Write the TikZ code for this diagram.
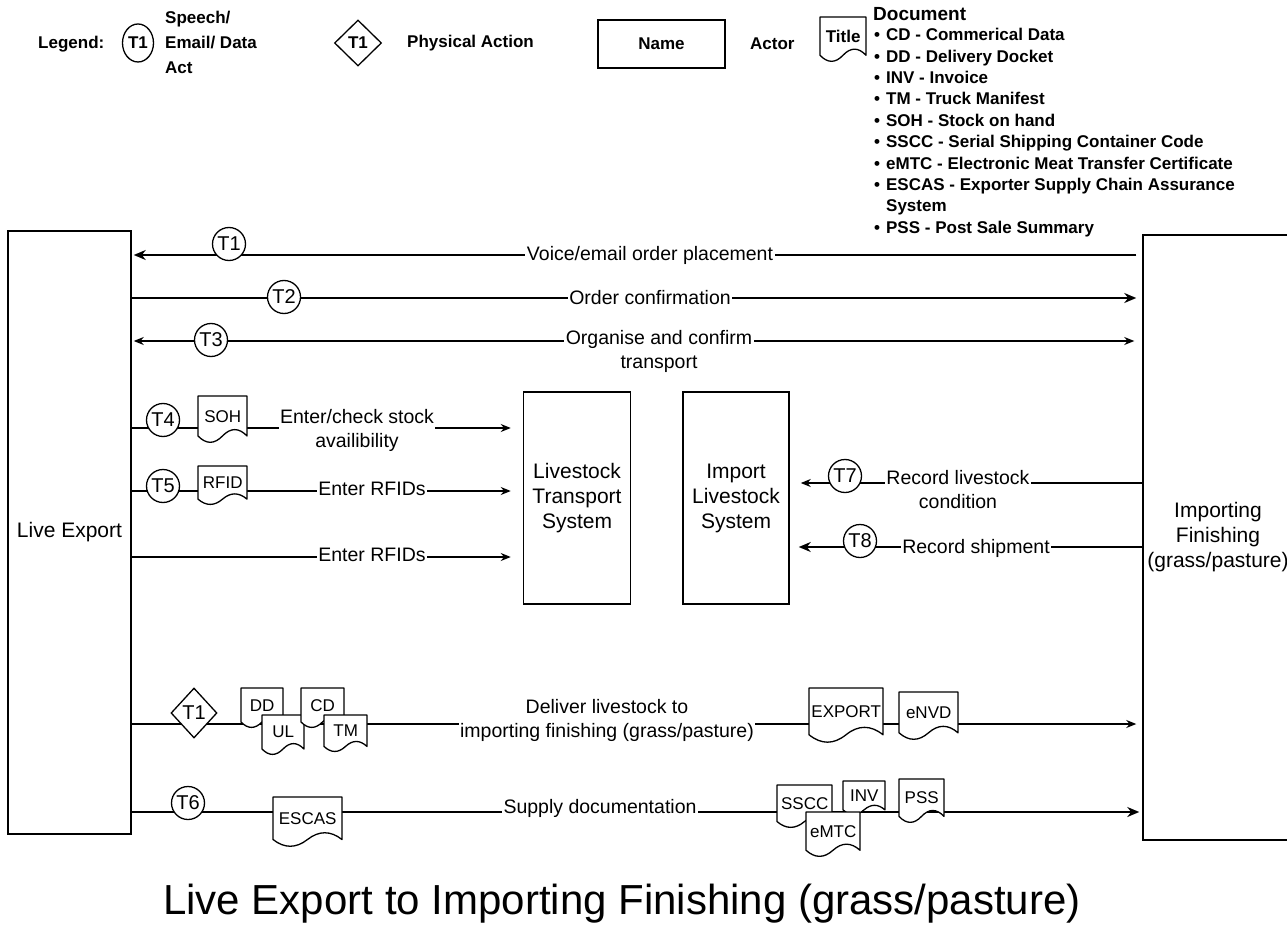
\documentclass[tikz,border=0pt]{standalone}
\usepackage{fontspec}
\setmainfont{Liberation Sans}
\usetikzlibrary{arrows.meta,shapes.geometric,calc}
\pgfdeclarelayer{bg}
\pgfsetlayers{bg,main}
\tikzset{
  actor/.style={draw, line width=1.5pt, fill=white, align=center, inner sep=0pt, font=\fontsize{21}{25}\selectfont},
  tc/.style={circle, draw, line width=1.3pt, fill=white, minimum size=33pt, inner sep=0pt, font=\fontsize{20}{20}\selectfont},
  lbl/.style={fill=white, align=center, inner sep=1.5pt, font=\fontsize{19.5}{24}\selectfont},
  leg/.style={font=\bfseries\fontsize{17}{25}\selectfont, inner sep=0pt},
  docline/.style={draw, line width=1.3pt, fill=white, line join=round},
  doctext/.style={inner sep=0pt, font=\fontsize{17}{17}\selectfont},
  thk/.style={line width=2pt, -{Stealth[length=12pt,width=10pt]}},
  thn/.style={line width=1.2pt, -{Stealth[length=10pt,width=8pt]}},
  thnboth/.style={line width=1.2pt, {Stealth[length=10pt,width=8pt]}-{Stealth[length=10pt,width=8pt]}},
}
% document shape: [text style]{name}{left}{top}{right}{bottom}{text}
\newcommand{\docshape}[7][]{%
  \draw[docline] (#3,#4) -- (#5,#4) -- (#5,{#4+0.85*(#6-#4)})
    .. controls ({#3+0.8333*(#5-#3)},{#4+0.67*(#6-#4)}) and ({#3+0.6667*(#5-#3)},{#4+0.67*(#6-#4)}) .. ({#3+0.5*(#5-#3)},{#4+0.85*(#6-#4)})
    .. controls ({#3+0.3333*(#5-#3)},{#4+1.03*(#6-#4)}) and ({#3+0.1667*(#5-#3)},{#4+1.03*(#6-#4)}) .. (#3,{#4+0.85*(#6-#4)}) -- cycle;
  \node[doctext, #1, minimum width={#5-#3}, minimum height={0.85*(#6-#4)}, anchor=north west] (#2) at (#3,#4) {#7};
}
\begin{document}
\begin{tikzpicture}[x=1pt,y=-1pt]
\useasboundingbox (0,0) rectangle (1287,941);
\clip (0,0) rectangle (1287,941);

% ---------- legend ----------
\node[leg, anchor=west] (legend) at (38,44) {Legend:};
\node[ellipse, draw, line width=1.3pt, minimum width=31pt, minimum height=38pt, inner sep=0pt, font=\bfseries\fontsize{17}{17}\selectfont] (legc) at (138,43) {T1};
\node[leg, anchor=west, align=left] (legspeech) at (165,42) {Speech/\\Email/ Data\\Act};
\node[diamond, draw, line width=1.3pt, minimum width=47pt, minimum height=46pt, inner sep=0pt, font=\bfseries\fontsize{17}{17}\selectfont] (legd) at (358,43) {T1};
\node[leg, anchor=west] (legphys) at (407,43) {Physical Action};
\node[draw, line width=1.5pt, minimum width=127pt, minimum height=48pt, inner sep=0pt, font=\bfseries\fontsize{17}{17}\selectfont] (legname) at (661.5,44) {Name};
\node[leg, anchor=west] (legactor) at (750,44) {Actor};
\docshape[font=\bfseries\fontsize{17}{17}\selectfont]{legtitle}{820}{17}{866}{62}{Title}
\node[anchor=west, inner sep=0pt, font=\bfseries\fontsize{19}{19}\selectfont] (legdoc) at (873,14) {Document};
\node[anchor=north west, inner sep=0pt, font=\bfseries\fontsize{17}{21.4}\selectfont] (doclist) at (874,25.5) {%
\begin{tabular}{@{}l@{\hspace{6pt}}l@{}}
\textbullet & CD - Commerical Data\\
\textbullet & DD - Delivery Docket\\
\textbullet & INV - Invoice\\
\textbullet & TM - Truck Manifest\\
\textbullet & SOH - Stock on hand\\
\textbullet & SSCC - Serial Shipping Container Code\\
\textbullet & eMTC - Electronic Meat Transfer Certificate\\
\textbullet & ESCAS - Exporter Supply Chain Assurance\\
 & System\\
\textbullet & PSS - Post Sale Summary
\end{tabular}};

% ---------- actors ----------
\node[actor, minimum width=123pt, minimum height=603pt] (LE) at (69.5,532.5) {Live Export};
\node[actor, minimum width=107pt, minimum height=212pt] (LTS) at (577,498) {Livestock\\Transport\\System};
\node[actor, minimum width=106pt, minimum height=212pt] (ILS) at (736,498) {Import\\Livestock\\System};
\node[actor, minimum width=150pt, minimum height=605pt] (IF) at (1218,537.5) {Importing\\Finishing\\(grass/pasture)};

% ---------- row levels ----------
\coordinate (r1) at (0,255);
\coordinate (r2) at (0,298);
\coordinate (r3) at (0,341);
\coordinate (r4) at (0,428);
\coordinate (r5) at (0,491);
\coordinate (r6) at (0,557);
\coordinate (r7) at (0,483);
\coordinate (r8) at (0,547);
\coordinate (r9) at (0,724);
\coordinate (r10) at (0,812);

% ---------- transaction circles ----------
\node[tc] (t1) at (229,244) {T1};
\node[tc] (t2) at (284,297) {T2};
\node[tc] (t3) at (211,340) {T3};
\node[tc] (t4) at (163,420) {T4};
\node[tc] (t5) at (163,486) {T5};
\node[tc] (t6) at (188,803) {T6};
\node[tc] (t7) at (845,476) {T7};
\node[tc] (t8) at (860,541) {T8};
\node[diamond, draw, line width=1.3pt, fill=white, minimum width=46pt, minimum height=50pt, inner sep=0pt, font=\fontsize{20}{20}\selectfont] (pa1) at (194,713) {T1};

% ---------- documents ----------
\docshape{soh}{198}{396}{247}{443}{SOH}
\docshape{rfid}{198}{466}{247}{505}{RFID}
\docshape{dd}{241}{688}{283}{728}{DD}
\docshape{ul}{262}{715}{304}{755}{UL}
\docshape{cd}{301}{688}{344}{728}{CD}
\docshape{tm}{324}{715}{367}{752}{TM}
\docshape{export}{809}{688}{883}{743}{EXPORT}
\docshape{envd}{899}{692}{958}{740}{eNVD}
\docshape{escas}{273}{797}{342}{847}{ESCAS}
\docshape{sscc}{777}{785}{832}{828}{SSCC}
\docshape{inv}{843}{781}{885}{815}{INV}
\docshape{emtc}{806}{812}{860}{857}{eMTC}
\docshape{pss}{899}{779}{944}{823}{PSS}

% ---------- labels ----------
\node[lbl] (l1) at (650,255) {Voice/email order placement};
\node[lbl] (l2) at (650,298) {Order confirmation};
\node[lbl] (l3) at (659,351) {Organise and confirm\\transport};
\node[lbl] (l4) at (357,430) {Enter/check stock\\availibility};
\node[lbl] (l5) at (372,489) {Enter RFIDs};
\node[lbl] (l6) at (372,555) {Enter RFIDs};
\node[lbl] (l7) at (958,489.5) {Record livestock\\condition};
\node[lbl] (l8) at (976,548) {Record shipment};
\node[lbl] (l9) at (607,720.5) {Deliver livestock to\\importing finishing (grass/pasture)};
\node[lbl] (l10) at (600,808) {Supply documentation};

% ---------- title ----------
\node[font=\fontsize{42}{42}\selectfont, inner sep=0pt] (title) at (622,904) {Live Export to Importing Finishing (grass/pasture)};

% ---------- connectors ----------
\begin{pgfonlayer}{bg}
\draw[thk, shorten <=6pt, shorten >=2pt] (IF.west |- r1) -- (LE.east |- r1);
\draw[thk, shorten >=6pt] (LE.east |- r2) -- (IF.west |- r2);
\draw[thnboth, shorten <=2pt, shorten >=8pt] (LE.east |- r3) -- (IF.west |- r3);
\draw[thn, shorten >=12pt] (LE.east |- r4) -- (LTS.west |- r4);
\draw[thn, shorten >=12pt] (LE.east |- r5) -- (LTS.west |- r5);
\draw[thn, shorten >=12pt] (LE.east |- r6) -- (LTS.west |- r6);
\draw[thn, shorten >=11pt] (IF.west |- r7) -- (ILS.east |- r7);
\draw[thk, shorten >=9pt] (IF.west |- r8) -- (ILS.east |- r8);
\draw[thn, shorten >=6pt] (LE.east |- r9) -- (IF.west |- r9);
\draw[thk, shorten >=3pt] (LE.east |- r10) -- (IF.west |- r10);
\end{pgfonlayer}
\end{tikzpicture}
\end{document}
